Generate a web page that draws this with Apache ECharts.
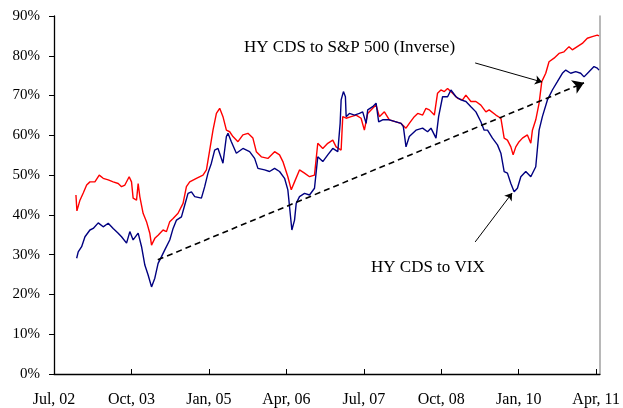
<!DOCTYPE html>
<html>
<head>
<meta charset="utf-8">
<script src="https://cdn.jsdelivr.net/npm/echarts@6/dist/echarts.min.js"></script>
<style>
  html, body { margin: 0; padding: 0; background: #fff; }
  #main { width: 623px; height: 408px; }
</style>
</head>
<body>
<div id="main"></div>
<script>
// x positions are decimal years (2002.5 = Jul 2002)
const redYears = [
  2002.854, 2002.870, 2002.919, 2002.972, 2003.027, 2003.080, 2003.160, 2003.230, 2003.294, 2003.375,
  2003.455, 2003.536, 2003.590, 2003.644, 2003.713, 2003.751, 2003.777, 2003.832, 2003.858, 2003.885,
  2003.938, 2003.993, 2004.046, 2004.074, 2004.127, 2004.180, 2004.260, 2004.315, 2004.368, 2004.422,
  2004.502, 2004.583, 2004.637, 2004.690, 2004.798, 2004.905, 2004.960, 2005.013, 2005.066, 2005.121,
  2005.174, 2005.227, 2005.282, 2005.335, 2005.388, 2005.469, 2005.549, 2005.630, 2005.710, 2005.765,
  2005.846, 2005.952, 2006.060, 2006.140, 2006.194, 2006.274, 2006.329, 2006.382, 2006.462, 2006.543,
  2006.624, 2006.704, 2006.757, 2006.838, 2006.918, 2006.999, 2007.053, 2007.134, 2007.160, 2007.215,
  2007.295, 2007.376, 2007.456, 2007.509, 2007.563, 2007.643, 2007.698, 2007.751, 2007.832, 2007.912,
  2008.020, 2008.101, 2008.181, 2008.234, 2008.315, 2008.370, 2008.450, 2008.503, 2008.558, 2008.638,
  2008.690, 2008.744, 2008.799, 2008.852, 2008.933, 2009.013, 2009.094, 2009.147, 2009.228, 2009.309,
  2009.389, 2009.470, 2009.523, 2009.631, 2009.712, 2009.765, 2009.818, 2009.873, 2009.910, 2009.953,
  2010.006, 2010.060, 2010.140, 2010.195, 2010.221, 2010.275, 2010.329, 2010.372, 2010.436, 2010.489,
  2010.570, 2010.650, 2010.731, 2010.812, 2010.865, 2010.945, 2011.026, 2011.107, 2011.187, 2011.268,
  2011.295
];
const redValues = [
  45.0, 41.0, 43.7, 45.5, 47.5, 48.3, 48.3, 50.0, 49.2, 48.8,
  48.3, 47.9, 47.1, 47.5, 49.6, 48.3, 44.2, 43.7, 47.9, 44.6,
  40.4, 38.3, 35.4, 32.4, 34.1, 34.9, 36.2, 35.8, 38.3, 39.1,
  40.4, 42.9, 47.1, 48.3, 49.2, 50.0, 51.3, 56.3, 61.3, 65.5,
  66.8, 64.7, 61.3, 60.9, 59.7, 58.4, 60.1, 60.5, 59.3, 55.9,
  54.6, 54.2, 55.9, 55.1, 53.4, 49.6, 46.3, 48.3, 51.3, 50.5,
  49.6, 50.0, 58.0, 56.7, 58.0, 58.8, 57.1, 56.3, 64.7, 64.3,
  64.7, 65.1, 64.3, 61.3, 65.5, 66.8, 67.6, 64.7, 65.9, 63.9,
  63.4, 63.0, 61.8, 63.0, 64.7, 65.5, 65.1, 66.8, 66.4, 65.1,
  70.6, 71.4, 71.0, 71.8, 70.6, 69.3, 68.9, 70.1, 68.5, 68.5,
  67.6, 65.9, 66.4, 65.1, 64.3, 59.3, 58.8, 57.1, 55.1, 57.1,
  58.4, 59.3, 60.1, 58.0, 61.3, 63.9, 68.1, 73.5, 75.6, 78.5,
  79.4, 80.6, 81.0, 82.3, 81.5, 82.3, 83.1, 84.4, 84.8, 85.2,
  85.0
];

const blueYears = [
  2002.866, 2002.891, 2002.946, 2003.000, 2003.080, 2003.133, 2003.214, 2003.294, 2003.375, 2003.455,
  2003.536, 2003.590, 2003.671, 2003.724, 2003.777, 2003.858, 2003.913, 2003.966, 2004.019, 2004.074,
  2004.127, 2004.180, 2004.235, 2004.288, 2004.368, 2004.422, 2004.477, 2004.557, 2004.610, 2004.663,
  2004.718, 2004.771, 2004.879, 2004.932, 2004.985, 2005.040, 2005.093, 2005.147, 2005.227, 2005.282,
  2005.308, 2005.362, 2005.443, 2005.549, 2005.657, 2005.738, 2005.791, 2005.899, 2005.979, 2006.060,
  2006.140, 2006.221, 2006.274, 2006.301, 2006.339, 2006.382, 2006.409, 2006.462, 2006.543, 2006.624,
  2006.704, 2006.757, 2006.838, 2006.918, 2006.999, 2007.080, 2007.118, 2007.134, 2007.171, 2007.203,
  2007.215, 2007.268, 2007.349, 2007.429, 2007.482, 2007.537, 2007.563, 2007.643, 2007.698, 2007.740,
  2007.804, 2007.912, 2008.020, 2008.101, 2008.138, 2008.181, 2008.234, 2008.342, 2008.449, 2008.529,
  2008.584, 2008.665, 2008.707, 2008.771, 2008.852, 2008.906, 2008.987, 2009.067, 2009.148, 2009.228,
  2009.309, 2009.389, 2009.442, 2009.496, 2009.576, 2009.657, 2009.712, 2009.765, 2009.818, 2009.873,
  2009.926, 2009.979, 2010.034, 2010.114, 2010.195, 2010.275, 2010.329, 2010.382, 2010.463, 2010.543,
  2010.624, 2010.704, 2010.759, 2010.839, 2010.920, 2011.000, 2011.054, 2011.134, 2011.215, 2011.268,
  2011.295
];
const blueValues = [
  29.1, 30.7, 32.0, 34.5, 36.2, 36.6, 38.0, 37.0, 37.9, 36.6,
  35.4, 34.5, 32.9, 35.8, 33.7, 35.4, 32.0, 27.4, 24.9, 21.9,
  24.1, 27.8, 29.5, 31.2, 33.7, 36.6, 38.7, 39.5, 42.5, 45.4,
  45.8, 44.6, 44.2, 47.1, 50.5, 53.0, 56.3, 56.7, 53.0, 59.7,
  60.5, 58.4, 55.5, 56.7, 55.9, 54.2, 51.7, 51.3, 50.9, 51.7,
  50.9, 49.2, 46.3, 42.1, 36.2, 38.7, 42.9, 44.6, 45.4, 45.0,
  46.7, 54.6, 53.4, 55.1, 56.7, 55.9, 63.0, 68.9, 71.0, 69.7,
  64.7, 65.5, 65.1, 65.5, 65.9, 63.0, 66.4, 67.2, 68.1, 63.4,
  63.9, 63.9, 63.4, 63.0, 62.2, 57.1, 59.7, 61.3, 61.8, 60.9,
  61.8, 59.3, 64.7, 69.7, 69.7, 71.4, 69.7, 68.9, 68.5, 67.2,
  65.9, 63.4, 61.3, 61.3, 59.3, 57.6, 55.5, 50.9, 50.5, 47.9,
  45.8, 46.7, 49.6, 50.9, 49.6, 52.1, 61.3, 64.7, 68.9, 71.4,
  73.5, 75.6, 76.4, 75.6, 76.0, 75.6, 74.7, 76.0, 77.3, 76.9,
  76.4
];

const monthNames = { 0: 'Jan', 3: 'Apr', 6: 'Jul', 9: 'Oct' };
const yTicks = [0, 10, 20, 30, 40, 50, 60, 70, 80, 90];

function pairs(xs, ys) {
  return xs.map((x, i) => [x, ys[i]]);
}

function xLabel(v) {
  const yr = Math.floor(v + 1e-6);
  const m = Math.round((v - yr) * 12);
  if (monthNames[m] === undefined || Math.abs((v - yr) * 4 - Math.round((v - yr) * 4)) > 1e-3) return '';
  return monthNames[m] + ', ' + String(yr % 100).padStart(2, '0');
}

const serif = 'Liberation Serif';
const chart = echarts.init(document.getElementById('main'));

const option = {
  animation: false,
  grid: { left: 54, right: 22, top: 16, bottom: 34, containLabel: false },
  xAxis: {
    type: 'value',
    min: 2002.5,
    max: 2011.31,
    interval: 1.25,
    axisLine: { show: true, onZero: false, lineStyle: { color: '#000', width: 1.3 } },
    axisTick: { show: true, inside: true, length: 5, lineStyle: { color: '#000' } },
    splitLine: { show: false },
    axisLabel: {
      margin: 18,
      fontFamily: serif,
      fontSize: 16,
      color: '#000',
      showMaxLabel: false,
      formatter: xLabel
    }
  },
  yAxis: [
    {
      type: 'value',
      min: yTicks[0],
      max: yTicks[yTicks.length - 1],
      interval: 10,
      axisLine: { show: true, lineStyle: { color: '#000', width: 1.3 } },
      axisTick: { show: true, inside: false, length: 5, lineStyle: { color: '#000' } },
      splitLine: { show: false },
      axisLabel: {
        margin: 14,
        fontFamily: serif,
        fontSize: 15,
        color: '#000',
        formatter: v => v + '%'
      }
    },
    {
      type: 'value',
      position: 'right',
      min: 0,
      max: 90,
      axisLine: { show: true, lineStyle: { color: '#a0a0a0', width: 1.5 } },
      axisTick: { show: false },
      axisLabel: { show: false },
      splitLine: { show: false }
    }
  ],
  series: [
    {
      name: 'HY CDS to S&P 500 (Inverse)',
      type: 'line',
      data: pairs(redYears, redValues),
      showSymbol: false,
      lineStyle: { color: '#ff0000', width: 1.4 },
      z: 3,
      markLine: {
        silent: true,
        symbol: ['none', 'arrow'],
        symbolSize: 7,
        label: { show: false },
        lineStyle: { color: '#000', width: 1, type: 'solid' },
        data: [
          [{ coord: [2009.297, 78.2] }, { coord: [2010.377, 73.4] }],
          [{ coord: [2009.297, 33.2] }, { coord: [2009.894, 45.5] }]
        ]
      }
    },
    {
      name: 'HY CDS to VIX',
      type: 'line',
      data: pairs(blueYears, blueValues),
      showSymbol: false,
      lineStyle: { color: '#000080', width: 1.4 },
      z: 4,
      markLine: {
        silent: true,
        symbol: ['none', 'arrow'],
        symbolSize: 11,
        label: { show: false },
        lineStyle: { color: '#000', width: 1.6, type: [6, 4] },
        data: [
          [{ coord: [2004.175, 28.7] }, { coord: [2011.053, 73.2] }]
        ]
      }
    }
  ],
  graphic: [
    {
      type: 'text',
      left: 244,
      top: 39,
      style: { text: 'HY CDS to S&P 500 (Inverse)', fontFamily: serif, fontSize: 17, fill: '#000' }
    },
    {
      type: 'text',
      left: 371,
      top: 259,
      style: { text: 'HY CDS to VIX', fontFamily: serif, fontSize: 17, fill: '#000' }
    }
  ]
};

chart.setOption(option);
</script>
</body>
</html>
